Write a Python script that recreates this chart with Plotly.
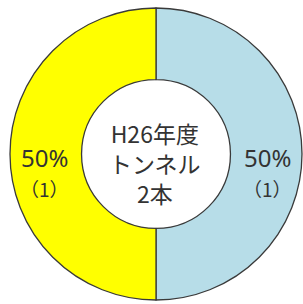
import plotly.graph_objects as go

labels = ["A", "B"]
values = [1, 1]
colors = ["#B7DDE8", "#FFFF00"]
center_lines = ["H26年度", "トンネル", "2本"]

total = sum(values)
W, H = 303, 304
cx, cy, R = 156, 154, 146

fig = go.Figure(go.Pie(
    labels=labels, values=values, hole=0.51, sort=False, direction="clockwise",
    rotation=0, textinfo="none", hoverinfo="none",
    marker=dict(colors=colors, line=dict(color="#3a3a3a", width=1.3)),
    domain=dict(x=[(cx - R) / W, (cx + R) / W], y=[(H - cy - R) / H, (H - cy + R) / H]),
    showlegend=False,
))

cjk = "Noto Sans CJK JP, sans-serif"
latin = "Noto Sans, Noto Sans CJK JP, sans-serif"
ann = []
# slice labels: index 0 right, index 1 left
xs = [267, 44]
for i, v in enumerate(values):
    pct = round(100 * v / total)
    ann.append(dict(x=xs[i] / W, y=1 - 157 / H, xref="paper", yref="paper",
                    xanchor="center", yanchor="middle",
                    text=f"{pct}%", showarrow=False,
                    font=dict(family=latin, size=24, color="#333333")))
    ann.append(dict(x=xs[i] / W, y=1 - 188 / H, xref="paper", yref="paper",
                    xanchor="center", yanchor="middle",
                    text=f"（{v}）", showarrow=False,
                    font=dict(family=cjk, size=19, color="#333333")))
ann.append(dict(x=155 / W, y=1 - 163 / H, xref="paper", yref="paper",
                xanchor="center", yanchor="middle",
                text="<br>".join(center_lines), showarrow=False,
                font=dict(family=cjk, size=23, color="#333333")))

fig.update_layout(width=W, height=H, margin=dict(l=0, r=0, t=0, b=0),
                  paper_bgcolor="white", plot_bgcolor="white", annotations=ann)
fig.write_html("out.html", config={"displayModeBar": False},
               post_script="document.body.style.margin='0';")
